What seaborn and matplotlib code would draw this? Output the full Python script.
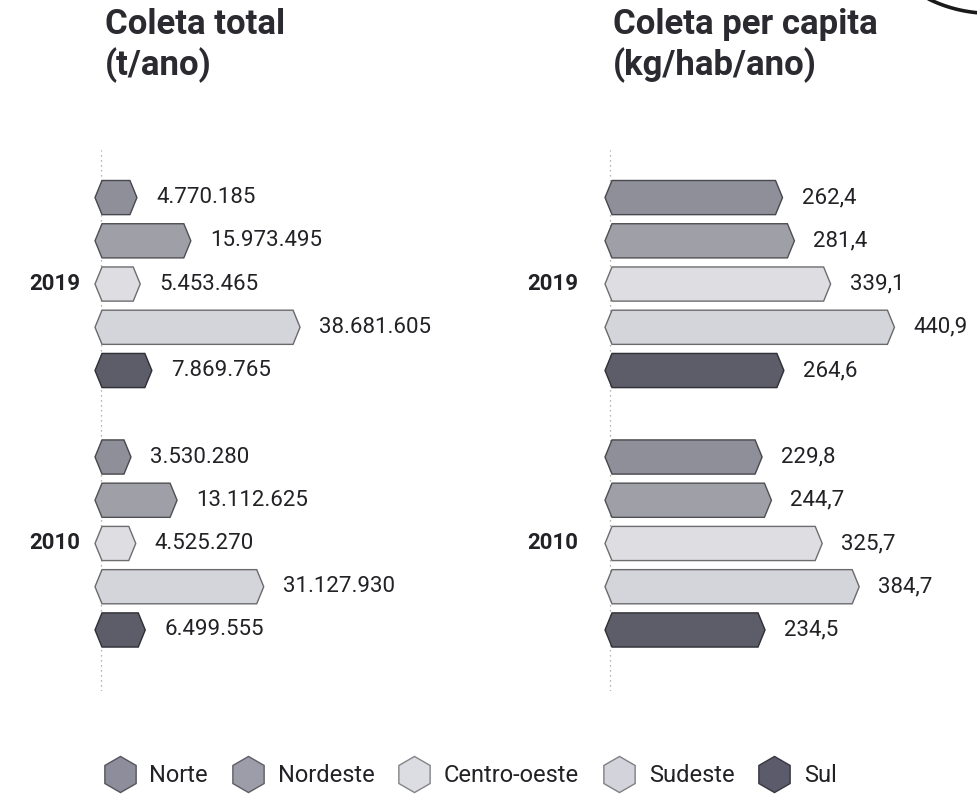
import numpy as np
import pandas as pd
import matplotlib
matplotlib.use("Agg")
import matplotlib.pyplot as plt
import matplotlib.colors as mcolors
from matplotlib import font_manager
from matplotlib.patches import Polygon
from matplotlib.lines import Line2D
import seaborn as sns

# ---- data -------------------------------------------------------------
regions = ["Norte", "Nordeste", "Centro-oeste", "Sudeste", "Sul"]
years = ["2019", "2010"]
total_2019 = [4770185, 15973495, 5453465, 38681605, 7869765]
total_2010 = [3530280, 13112625, 4525270, 31127930, 6499555]
percap_2019 = [262.4, 281.4, 339.1, 440.9, 264.6]
percap_2010 = [229.8, 244.7, 325.7, 384.7, 234.5]
region_colors = ["#8d8d9b", "#9d9daa", "#dcdce3", "#d3d3dc", "#5b5b6b"]
panel_titles = ["Coleta total\n(t/ano)", "Coleta per capita\n(kg/hab/ano)"]

# ---- fonts ------------------------------------------------------------
W, H = 978, 796
sns.set_theme(style="white")
plt.rcParams["font.family"] = ["Roboto", "DejaVu Sans"]
TEXT = "#222226"

try:
    font_manager.findfont(font_manager.FontProperties(family="Liberation Sans Narrow"),
                          fallback_to_default=False)
    NARROW = ["Liberation Sans Narrow", "Roboto"]
    LABEL_SIZE, LEGEND_SIZE = 19, 20
except ValueError:
    NARROW = ["Roboto", "DejaVu Sans"]
    LABEL_SIZE, LEGEND_SIZE = 16, 17

fig = plt.figure(figsize=(W / 100, H / 100), dpi=100)


def axes_px(left, top, right, bottom):
    return fig.add_axes([left / W, 1 - bottom / H, (right - left) / W, (bottom - top) / H])


# row order with an empty slot between the two years
row_order = [f"2019 {r}" for r in regions] + ["gap"] + [f"2010 {r}" for r in regions]


def make_frame(v2019, v2010):
    rows = []
    for y, vals in zip(years, [v2019, v2010]):
        for r, v in zip(regions, vals):
            rows.append({"row": f"{y} {r}", "region": r, "value": v})
    return pd.DataFrame(rows)


def hexagonize(ax, scale, corner_px):
    """Turn each bar rectangle into a bar with pointed ends."""
    tip = 7.0 / scale
    c0 = corner_px / scale
    for p in list(ax.patches):
        x0, w = p.get_x(), p.get_width()
        if not np.isfinite(w) or w == 0:
            p.remove()
            continue
        y0, h = p.get_y(), p.get_height()
        x1 = x0 + w
        ym = y0 + h / 2
        fc = p.get_facecolor()
        dark = tuple(np.clip(np.array(mcolors.to_rgb(fc)) * 0.5, 0, 1))
        verts = [(x0 + c0 - tip, ym), (x0 + c0, y0), (x1, y0),
                 (x1 + tip, ym), (x1, y0 + h), (x0 + c0, y0 + h)]
        poly = Polygon(verts, closed=True, facecolor=fc, edgecolor=dark,
                       linewidth=1.0, joinstyle="miter", zorder=3)
        p.remove()
        ax.add_patch(poly)


def panel(ax, df, x0_px, left_px, right_px, scale, corner_px, fmt, year_right_px,
          title, title_x, base_px):
    sns.barplot(data=df, y="row", x="value", hue="region", hue_order=regions,
                palette=region_colors, order=row_order, dodge=False, width=0.79,
                orient="h", legend=False, ax=ax)
    ax.set_xlim((left_px - x0_px) / scale, (right_px - x0_px) / scale)
    ax.set_ylim(11.4, -1.1)
    hexagonize(ax, scale, corner_px)
    ax.axis("off")
    # dotted baseline
    ax.axvline(base_px / scale, color="#9a9a9a", lw=0.9, ls=(0, (1, 3)), zorder=1)
    # value labels
    for _, r in df.iterrows():
        yi = row_order.index(r["row"])
        ax.annotate(fmt(r["value"]), xy=(r["value"], yi), xytext=(26, 0),
                    textcoords="offset pixels", va="center", ha="left",
                    fontsize=LABEL_SIZE, color=TEXT, family=NARROW)
    # year labels
    for y, idx in zip(years, [2, 8]):
        ax.annotate(y, xy=(year_right_px / W, idx), xycoords=("figure fraction", "data"),
                    ha="right", va="center", fontsize=16, fontweight="bold", color=TEXT,
                    annotation_clip=False)
    fig.text(title_x / W, 1 - 8 / H, title, ha="left", va="top", fontsize=25,
             fontweight="bold", color="#2a2a30", linespacing=1.22)


fmt_total = lambda v: f"{int(v):,}".replace(",", ".")
fmt_cap = lambda v: f"{v:.1f}".replace(".", ",")

TOP, BOTTOM = 150, 690.5
ax1 = axes_px(60, TOP, 520, BOTTOM)
panel(ax1, make_frame(total_2019, total_2010), x0_px=107, left_px=60, right_px=520,
      scale=4.81e-6, corner_px=-5, fmt=fmt_total, year_right_px=80,
      title=panel_titles[0], title_x=105, base_px=-6)

ax2 = axes_px(585, TOP, 978, BOTTOM)
panel(ax2, make_frame(percap_2019, percap_2010), x0_px=611, left_px=585, right_px=978,
      scale=0.627, corner_px=1, fmt=fmt_cap, year_right_px=578,
      title=panel_titles[1], title_x=613, base_px=-1)

# legend with vertical hexagon markers
handles = [Line2D([], [], marker="h", ls="", markersize=26, markerfacecolor=c,
                  markeredgecolor=tuple(np.array(mcolors.to_rgb(c)) * 0.6), markeredgewidth=1)
           for c in region_colors]
fig.legend(handles, regions, loc="center", bbox_to_anchor=(470 / W, 1 - 776 / H),
           ncol=5, frameon=False, prop={"family": NARROW, "size": LEGEND_SIZE},
           handlelength=1.4, handletextpad=0.55, columnspacing=1.0, labelcolor=TEXT)

# edge of a round stamp at the upper right corner
theta = np.linspace(np.radians(240), np.radians(300), 80)
cx, cy, rad = 990.0, -125.7, 139.0
xs = cx + rad * np.cos(theta)
ys = cy - rad * np.sin(theta)
fig.add_artist(Line2D(xs / W, 1 - ys / H, transform=fig.transFigure,
                      color="#1a1a1a", lw=2.6))

fig.savefig("out.png", dpi=100, facecolor="white")
